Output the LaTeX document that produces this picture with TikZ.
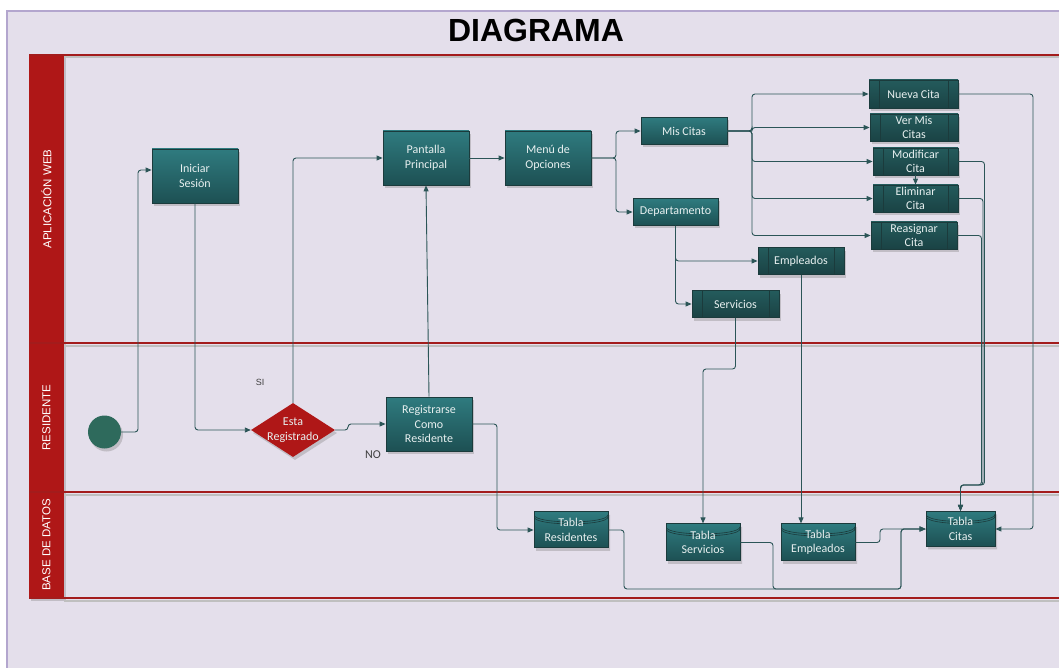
\documentclass[tikz,border=0pt]{standalone}
\usepackage{fontspec}
\setmainfont{Carlito}
\newfontfamily\lanefont{Liberation Sans}
\usetikzlibrary{shapes.geometric,shadows,arrows.meta}

\definecolor{bgcol}{HTML}{E4DFEB}
\definecolor{framecol}{HTML}{B3A6CE}
\definecolor{lanered}{HTML}{AF1717}
\definecolor{laneline}{HTML}{A31C1C}
\definecolor{boxtop}{HTML}{2F7B7F}
\definecolor{boxbot}{HTML}{1D5053}
\definecolor{subtop}{HTML}{245B5C}
\definecolor{subbot}{HTML}{1A4244}
\definecolor{boxedge}{HTML}{1B3B3C}
\definecolor{linkcol}{HTML}{2B5557}
\definecolor{boxtext}{HTML}{E8F0F0}
\definecolor{startcol}{HTML}{2E6A5C}

\tikzset{
  shade/.style={drop shadow={shadow xshift=2pt,shadow yshift=-3pt,opacity=0.35}},
  proc/.style={rectangle,draw=boxedge,line width=0.8pt,top color=boxtop,bottom color=boxbot,
    text=boxtext,font=\fontsize{12}{14.5}\selectfont,align=center,inner sep=1pt,shade},
  subproc/.style={proc,top color=subtop,bottom color=subbot,
    path picture={
      \draw[boxedge,line width=0.8pt] ([xshift=10pt]path picture bounding box.north west) -- ([xshift=10pt]path picture bounding box.south west);
      \draw[boxedge,line width=0.8pt] ([xshift=-10pt]path picture bounding box.north east) -- ([xshift=-10pt]path picture bounding box.south east);
    }},
  inlabel/.style={text=boxtext,font=\fontsize{12}{14.5}\selectfont,align=center,inner sep=0pt},
  dbtable/.style={cylinder,shape border rotate=90,aspect=0.12,draw=boxedge,line width=0.8pt,
    top color=boxtop,bottom color=boxbot,inner sep=0pt,shade,
    path picture={
      \foreach \dy in {3,5}
        \draw[boxedge,line width=0.6pt] ([yshift=-\dy pt]path picture bounding box.north west) .. controls +(0,-9.5pt) and +(0,-9.5pt) .. ([yshift=-\dy pt]path picture bounding box.north east);
    }},
  decision/.style={diamond,minimum width=84pt,minimum height=54pt,inner sep=0pt,aspect=1.55,fill=lanered,shade},
  startnode/.style={circle,minimum size=33pt,inner sep=0pt,fill=startcol,shade},
  lanehead/.style={rectangle,rotate=90,fill=lanered,minimum height=35pt,inner sep=0pt,text=white,
    font=\lanefont\fontsize{11.5}{13}\selectfont,shade},
  link/.style={->,draw=linkcol,line width=0.9pt,rounded corners=3pt},
  note/.style={text=black!75,inner sep=0pt}
}

\begin{document}
\begin{tikzpicture}[x=1pt,y=-1pt,>={Triangle[length=6pt,width=5pt]}]
\useasboundingbox (0,0) rectangle (1059,668);

% --- Fondo y carriles ---
\fill[bgcol] (7,11) rectangle (1070,680);
\draw[framecol,line width=1.5pt] (7,680) -- (7,11) -- (1070,11);
\node[font=\lanefont\bfseries\fontsize{32}{36}\selectfont] (title) at (536,30) {DIAGRAMA};

\node[lanehead,minimum width=288pt] (weblane) at (46.5,199) {APLICACIÓN WEB};
\node[lanehead,minimum width=149pt] (reslane) at (46.5,417.5) {RESIDENTE};
\node[lanehead,minimum width=106pt] (dblane) at (46.5,545) {BASE DE DATOS};
\foreach \ly in {55,343,492,598} {
  \draw[black!25,line width=2pt] (64,\ly+2.5) -- (1059,\ly+2.5);
  \draw[laneline,line width=1.2pt] (29,\ly) -- (1059,\ly);
}

% --- Aplicacion web ---
\node[proc,minimum width=86pt,minimum height=54pt] (ini) at (195,176) {Iniciar\\Sesión};
\node[proc,minimum width=86pt,minimum height=54pt] (pant) at (426,158) {Pantalla\\Principal};
\node[proc,minimum width=86pt,minimum height=54pt] (menu) at (548,158) {Menú de\\Opciones};
\node[proc,minimum width=86pt,minimum height=27pt] (mis) at (684,131) {Mis Citas};
\node[proc,minimum width=85pt,minimum height=27pt] (dep) at (675.5,212) {Departamento};
\node[subproc,minimum width=86pt,minimum height=27pt] (emp) at (801,261) {Empleados};
\node[subproc,minimum width=87pt,minimum height=27pt] (serv) at (735.5,304) {Servicios};
\node[subproc,minimum width=89pt,minimum height=28pt,inner sep=0pt] (nueva) at (913.5,94) {Nueva Cita};
\node[subproc,minimum width=88pt,minimum height=27pt,inner sep=0pt] (ver) at (914,127.5) {Ver Mis\\Citas};
\node[subproc,minimum width=85pt,minimum height=27pt,inner sep=0pt] (modif) at (915.5,161.5) {Modificar\\Cita};
\node[subproc,minimum width=85pt,minimum height=27pt,inner sep=0pt] (elim) at (915.5,198.5) {Eliminar\\Cita};
\node[subproc,minimum width=86pt,minimum height=27pt,inner sep=0pt] (reas) at (914,235.5) {Reasignar\\Cita};

% --- Residente ---
\node[startnode] (start) at (104.5,432) {};
\node[decision,label={[inlabel]center:Esta\\Registrado}] (dec) at (293,430) {};
\node[proc,minimum width=86pt,minimum height=54pt] (reg) at (429,424) {Registrarse\\Como\\Residente};
\node[note,font=\lanefont\fontsize{9}{10}\selectfont] (si) at (260,382) {SI};
\node[note,font=\fontsize{12}{13}\selectfont] (no) at (373,455) {NO};

% --- Base de datos ---
\node[dbtable,minimum width=74pt,minimum height=36pt,label={[inlabel]center:Tabla\\Residentes}] (tres) at (571,530) {};
\node[dbtable,minimum width=74pt,minimum height=37pt,label={[inlabel]center:Tabla\\Servicios}] (tserv) at (703,542.5) {};
\node[dbtable,minimum width=74pt,minimum height=37pt,label={[inlabel]center:Tabla\\Empleados}] (temp) at (818,542.5) {};
\node[dbtable,minimum width=69pt,minimum height=35pt,label={[inlabel]center:Tabla\\Citas}] (tcitas) at (960.5,529) {};

% --- Conectores ---
\draw[link] (start.east) -- (138,432) |- ([yshift=6pt]ini.west);
\draw[link] (ini.south) |- (dec.west);
\draw[link] (dec.north) |- (pant.west);
\draw[link] (dec.east) -- (348,430) |- (reg.west);
\draw[link] (reg.north) -- (pant.south);
\draw[link] (reg.east) -- (497,424) |- (tres.west);
\draw[link] (pant.east) -- (menu.west);
\draw[link] (menu.east) -- (616,158) |- (mis.west);
\draw[link] (menu.east) -- (616,158) |- (dep.west);
\foreach \t in {nueva,ver,modif,elim,reas}
  \draw[link] (mis.east) -- (752,131) |- (\t.west);
\draw[link] (modif.south) -- (elim.north);
\draw[link] (dep.south) |- (emp.west);
\draw[link] (dep.south) |- (serv.west);
\draw[link] (serv.south) -- (735.5,369) -| (tserv.north);
\draw[link] (emp.south) -- (emp.south |- tserv.north);
\draw[link] (nueva.east) -- (1033,94) |- (tcitas.east);
\draw[link] (modif.east) -- (984.5,161.5) -- (984.5,485) -| (tcitas.north);
\draw[link] (elim.east) -- (983,198.5) -- (983,485) -| (tcitas.north);
\draw[link] (reas.east) -- (981.5,235.5) -- (981.5,485) -| (tcitas.north);
\draw[link] (tres.east) -| (624,589) -| (901,529) -- (tcitas.west);
\draw[link] (tserv.east) -| (773,589) -| (901,529) -- (tcitas.west);
\draw[link] (temp.east) -| (880,529) -- (tcitas.west);

\end{tikzpicture}
\end{document}
